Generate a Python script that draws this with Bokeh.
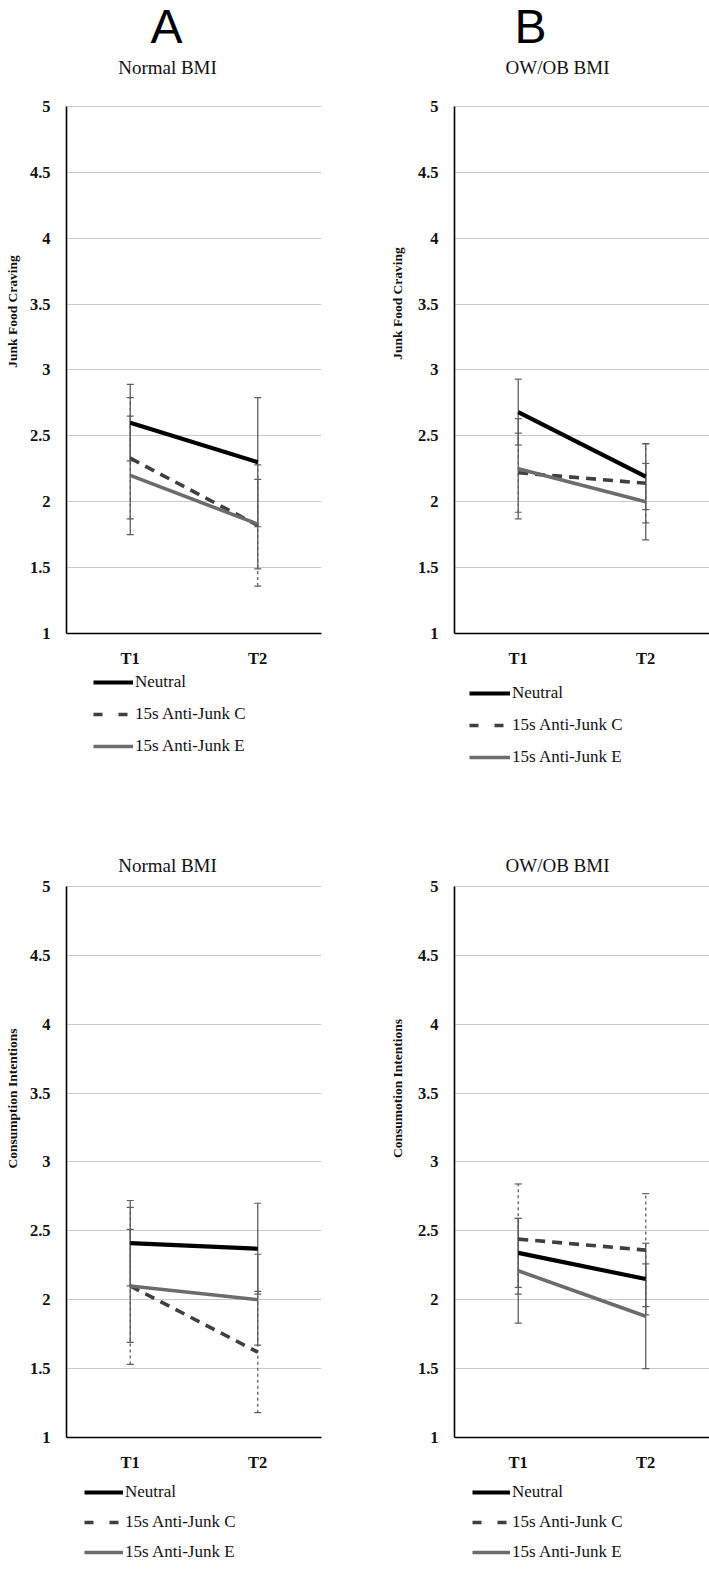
from bokeh.plotting import figure
from bokeh.models import (FactorRange, Range1d, FixedTicker, Whisker, TeeHead,
                          ColumnDataSource, Legend, LegendItem, Label)
from bokeh.layouts import row, column
from bokeh.embed import file_html
from bokeh.resources import INLINE

# ---- data -------------------------------------------------------------
times = ["T1", "T2"]
y_ticks = [1, 1.5, 2, 2.5, 3, 3.5, 4, 4.5, 5]
y_tick_labels = ["1", "1.5", "2", "2.5", "3", "3.5", "4", "4.5", "5"]
series_names = ["Neutral", "15s Anti-Junk C", "15s Anti-Junk E"]

# Junk food craving, normal BMI
craving_normal_neutral = [2.60, 2.30]
craving_normal_neutral_err = [0.29, 0.49]
craving_normal_c = [2.33, 1.82]
craving_normal_c_err = [0.46, 0.46]
craving_normal_e = [2.20, 1.83]
craving_normal_e_err = [0.45, 0.34]

# Junk food craving, OW/OB BMI
craving_ob_neutral = [2.68, 2.19]
craving_ob_neutral_err = [0.25, 0.25]
craving_ob_c = [2.22, 2.14]
craving_ob_c_err = [0.30, 0.30]
craving_ob_e = [2.25, 2.00]
craving_ob_e_err = [0.38, 0.29]

# Consumption intentions, normal BMI
intent_normal_neutral = [2.41, 2.37]
intent_normal_neutral_err = [0.31, 0.33]
intent_normal_c = [2.10, 1.62]
intent_normal_c_err = [0.57, 0.44]
intent_normal_e = [2.10, 2.00]
intent_normal_e_err = [0.41, 0.33]

# Consumption intentions, OW/OB BMI
intent_ob_neutral = [2.34, 2.15]
intent_ob_neutral_err = [0.25, 0.26]
intent_ob_c = [2.44, 2.36]
intent_ob_c_err = [0.40, 0.41]
intent_ob_e = [2.21, 1.88]
intent_ob_e_err = [0.38, 0.38]

# ---- styling ------------------------------------------------------------
SERIF = "Liberation Serif"
LINE_STYLES = [
    dict(line_color="#000000", line_width=4.2, line_dash="solid"),
    dict(line_color="#3f3f3f", line_width=3.6, line_dash="10 7"),
    dict(line_color="#6c6c6c", line_width=3.6, line_dash="solid"),
]
# the key draws the dashed sample with a wider gap
KEY_DASH = ["solid", "9 16", "solid"]
ERR_DASH = ["solid", "3 3", "solid"]
ERR_COLOR = "#5e5e5e"
INK = "#111111"


def blank(width, height):
    """A figure without axes, used for side texts and the key."""
    p = figure(width=width, height=height, x_axis_type=None,
               y_axis_type=None, x_range=FactorRange(*times),
               y_range=Range1d(1, 5), output_backend="svg",
               toolbar_location=None, title=None, min_border=0)
    p.outline_line_color = None
    p.border_fill_color = "white"
    p.background_fill_color = "white"
    return p


def y_title(width, height, text, x, y):
    p = blank(width, height)
    p.add_layout(Label(x=x, y=y, x_units="screen", y_units="screen",
                       text=text, angle=1.5707963, text_align="center",
                       text_baseline="middle", text_font=SERIF,
                       text_font_style="bold", text_font_size="13.5px",
                       text_color=INK))
    return p


def key(width, height, series, loc, spacing, glyph_width):
    # the key carries its own (hidden) copies of the series so that the
    # legend can draw a sample of each line style
    p = blank(width, height)
    items = []
    for i, (name, (vals, _)) in enumerate(zip(series_names, series)):
        style = dict(LINE_STYLES[i], line_dash=KEY_DASH[i])
        r = p.line(x=times, y=vals, line_cap="butt", visible=False, **style)
        items.append(LegendItem(label=name, renderers=[r]))
    p.add_layout(Legend(items=items, location=loc, orientation="vertical",
                        border_line_color=None, background_fill_alpha=0,
                        inactive_fill_alpha=0, click_policy="none",
                        padding=0, margin=0, spacing=spacing,
                        glyph_width=glyph_width, glyph_height=20,
                        label_height=20, label_standoff=2,
                        label_text_font=SERIF, label_text_font_size="17px",
                        label_text_color=INK))
    return p


def chart(width, height, bl, br, bb, px_per_unit, series, title, title_top,
          letter, letter_mid):
    # frame runs from the canvas top down to the value 1; the room above
    # the value 5 carries the panel headings
    frame_h = height - bb
    p = figure(width=width, height=height, x_range=FactorRange(*times),
               y_range=Range1d(1, 1 + frame_h / px_per_unit),
               output_backend="svg", toolbar_location=None, title=None,
               min_border_left=bl, min_border_right=br, min_border_top=0,
               min_border_bottom=bb)
    p.outline_line_color = None
    p.background_fill_color = "white"
    p.border_fill_color = "white"

    p.yaxis.ticker = FixedTicker(ticks=y_ticks)
    p.yaxis.major_label_overrides = dict(zip(y_ticks, y_tick_labels))
    p.yaxis.bounds = (1, 5)
    for ax in (p.xaxis, p.yaxis):
        ax.axis_line_color = "#000000"
        ax.axis_line_width = 1.6
        ax.major_tick_line_color = None
        ax.minor_tick_line_color = None
        ax.major_tick_out = 0
        ax.minor_tick_out = 0
        ax.major_label_text_font = SERIF
        ax.major_label_text_font_style = "bold"
        ax.major_label_text_font_size = "16.5px"
        ax.major_label_text_color = INK
    p.yaxis.major_label_standoff = 16
    p.xaxis.major_label_standoff = 15
    p.xgrid.grid_line_color = None
    p.ygrid.grid_line_color = "#c9c9c9"
    p.ygrid.grid_line_width = 1.2

    for i, (vals, errs) in enumerate(series):
        src = ColumnDataSource(dict(
            x=times, y=vals,
            upper=[v + e for v, e in zip(vals, errs)],
            lower=[v - e for v, e in zip(vals, errs)]))
        head = dict(size=7, line_color=ERR_COLOR, line_width=1.2)
        p.add_layout(Whisker(base="x", upper="upper", lower="lower",
                             source=src, line_color=ERR_COLOR,
                             line_width=1.3, line_dash=ERR_DASH[i],
                             upper_head=TeeHead(**head),
                             lower_head=TeeHead(**head)))
        p.line("x", "y", source=src, line_cap="butt", **LINE_STYLES[i])

    p.add_layout(Label(x=title[1], y=frame_h - title_top, x_units="screen",
                       y_units="screen", text=title[0], text_align="center",
                       text_baseline="middle", text_font=SERIF,
                       text_font_size="19px", text_color=INK))
    if letter:
        p.add_layout(Label(x=letter[1], y=frame_h - letter_mid,
                           x_units="screen", y_units="screen", text=letter[0],
                           text_align="center", text_baseline="middle",
                           text_font="Liberation Sans",
                           text_font_size="48px", text_color="#000000"))
    return p


craving_normal = [(craving_normal_neutral, craving_normal_neutral_err),
                  (craving_normal_c, craving_normal_c_err),
                  (craving_normal_e, craving_normal_e_err)]
craving_ob = [(craving_ob_neutral, craving_ob_neutral_err),
              (craving_ob_c, craving_ob_c_err),
              (craving_ob_e, craving_ob_e_err)]
intent_normal = [(intent_normal_neutral, intent_normal_neutral_err),
                 (intent_normal_c, intent_normal_c_err),
                 (intent_normal_e, intent_normal_e_err)]
intent_ob = [(intent_ob_neutral, intent_ob_neutral_err),
             (intent_ob_c, intent_ob_c_err),
             (intent_ob_e, intent_ob_e_err)]

# ---- panel A, craving ----
ch_a1 = chart(364, 670, 39, 69, 36, 132, craving_normal,
              ("Normal BMI", 101), 68, ("A", 100), 27)
yt_a1 = y_title(26, 670, "Junk Food Craving", 12, 322)
key_a1 = key(390, 115, craving_normal, (93, 29), 12, 40)

# ---- panel B, craving ----
ch_b1 = chart(295, 670, 40, 0, 36, 132, craving_ob,
              ("OW/OB BMI", 103), 68, ("B", 76), 27)
yt_b1 = y_title(24, 670, "Junk Food Craving", 7, 330)
key_b1 = key(319, 115, craving_ob, (79, 18), 12, 41)

# ---- panel A, intentions ----
ch_a2 = chart(364, 689, 39, 69, 36, 138, intent_normal,
              ("Normal BMI", 101), 81, None, None)
yt_a2 = y_title(26, 689, "Consumption Intentions", 12, 339)
key_a2 = key(390, 96, intent_normal, (84, 8), 10, 39)

# ---- panel B, intentions ----
ch_b2 = chart(295, 689, 40, 0, 36, 138, intent_ob,
              ("OW/OB BMI", 103), 81, None, None)
yt_b2 = y_title(24, 689, "Consumotion Intentions", 7, 349)
key_b2 = key(319, 96, intent_ob, (82, 8), 10, 38)

layout = column(
    row(column(row(yt_a1, ch_a1), key_a1), column(row(yt_b1, ch_b1), key_b1)),
    row(column(row(yt_a2, ch_a2), key_a2), column(row(yt_b2, ch_b2), key_b2)),
)
open("out.html", "w").write(file_html(layout, INLINE))
